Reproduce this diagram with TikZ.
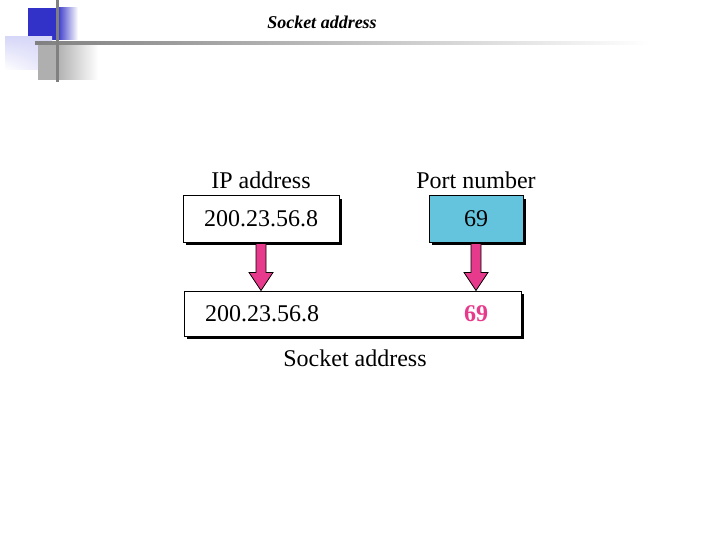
\documentclass[tikz,border=0pt]{standalone}
\usepackage{fontspec}
\setmainfont{Liberation Serif}
\usetikzlibrary{calc,shadows,shadings}
\definecolor{arrowpink}{RGB}{232,58,140}
\definecolor{portblue}{RGB}{100,196,222}
\definecolor{decoblue}{RGB}{50,50,200}
\definecolor{decolav}{RGB}{215,215,248}
\definecolor{decogray}{RGB}{175,175,175}
\definecolor{linegray}{RGB}{128,128,128}

\begin{document}
\begin{tikzpicture}[x=1pt,y=-1pt,font=\fontsize{24}{27}\selectfont,
  field/.style={draw,line width=1pt,minimum height=46pt,inner sep=0pt,fill=white,
    drop shadow={shadow xshift=3pt,shadow yshift=-3pt,opacity=1,fill=black}},
  fatarrow/.style={draw,line width=.8pt,fill=arrowpink}]
  \useasboundingbox (0,0) rectangle (720,540);
  % slide decoration
  \fill[decoblue] (28,8) rectangle (57,40);
  \shade[left color=decoblue,right color=white] (57,8) rectangle (78,40);
  \shade[upper left=decolav,upper right=decolav,lower left=white,lower right=decolav!70] (5,37) rectangle (52,70);
  \fill[decogray] (38,45) rectangle (57,80);
  \shade[left color=decogray,right color=white] (57,45) rectangle (98,80);
  \shade[left color=linegray,right color=white] (35,42) rectangle (650,45);
  \fill[linegray] (56,0) rectangle (59,82);
  \node[font=\fontsize{18}{21}\selectfont\bfseries\itshape] (title) at (322,22) {Socket address};

  % fields
  \node[field,minimum width=156pt] (ip) at (261,219) {200.23.56.8};
  \node[field,minimum width=94pt,fill=portblue] (port) at (476,219) {69};
  \node[field,minimum width=337pt,minimum height=45pt] (socket) at (352.5,313.5) {};
  \node (iplabel) at (261,180) {IP address};
  \node (portlabel) at (476,180) {Port number};
  \node (socklabel) at (355,358) {Socket address};
  \node[anchor=west,inner sep=0pt] (sockip) at (205,314) {200.23.56.8};
  \node[text=arrowpink,font=\fontsize{24}{27}\selectfont\bfseries] (sockport) at (476,314) {69};

  % arrows into the socket address
  \foreach \src in {ip,port}{
    \coordinate (\src-tip) at (\src.south |- socket.north);
    \draw[fatarrow] ($(\src.south)+(-5,1)$) -- ($(\src-tip)+(-5,-18)$) -- ($(\src-tip)+(-12,-18)$)
      -- (\src-tip) -- ($(\src-tip)+(12,-18)$) -- ($(\src-tip)+(5,-18)$) -- ($(\src.south)+(5,1)$) -- cycle;
  }
\end{tikzpicture}
\end{document}
